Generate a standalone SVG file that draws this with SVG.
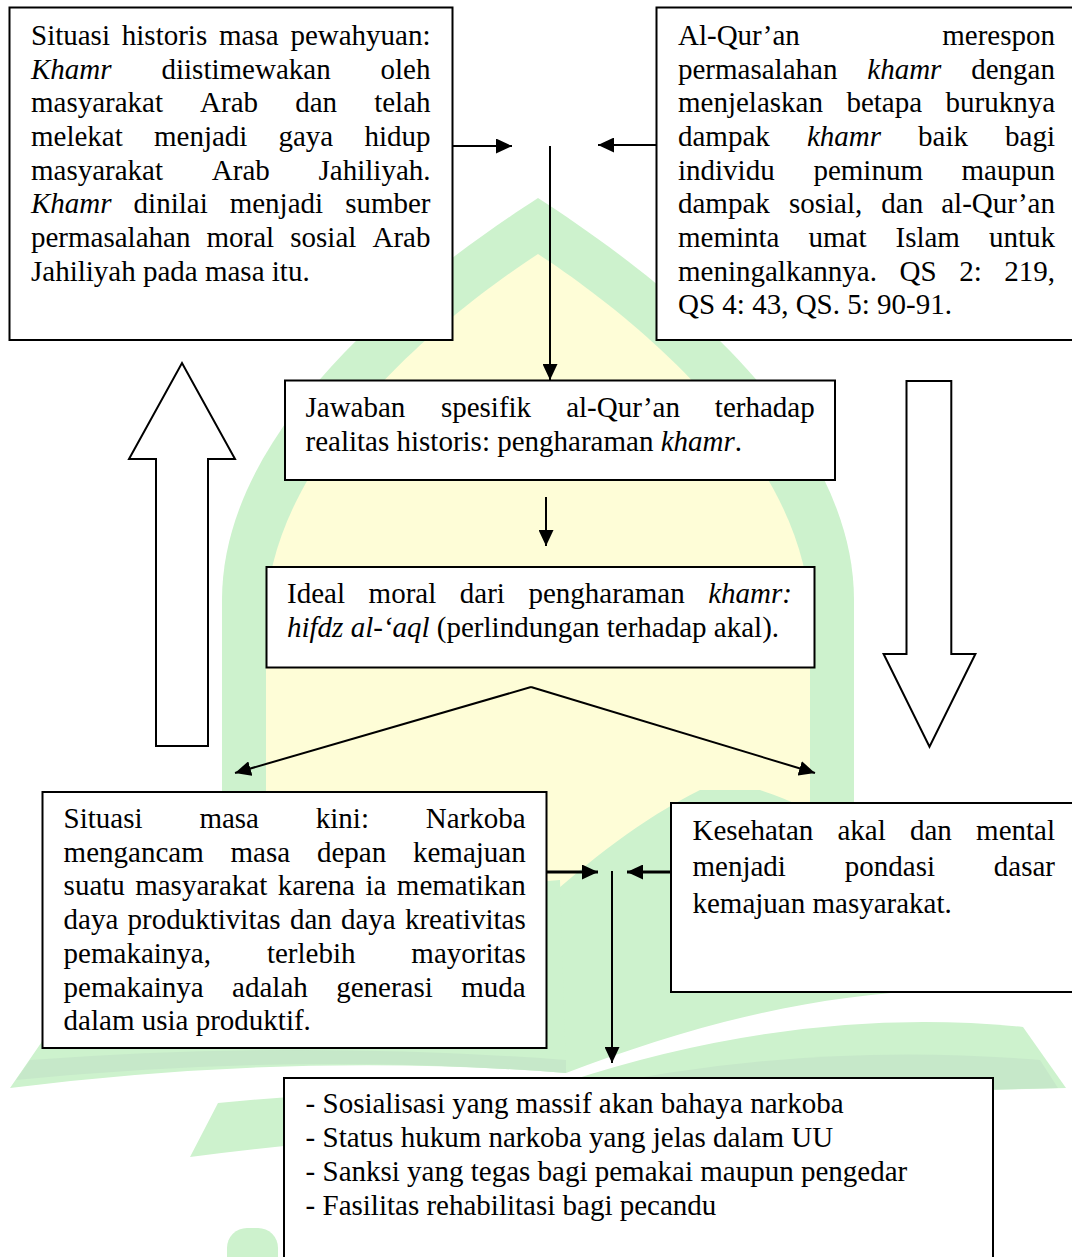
<svg xmlns="http://www.w3.org/2000/svg" width="1072" height="1257" viewBox="0 0 1072 1257">
<defs>
<style>
.box{fill:#fff;stroke:#000;stroke-width:2}
.t{font-family:"Liberation Serif","Times New Roman",serif;font-size:29px;fill:#000}
.i{font-style:italic}
.e{text-anchor:end}
.c{stroke:#000;stroke-width:2;fill:none}
.c3{stroke:#000;stroke-width:3;fill:none}
.hollow{fill:#fff;stroke:#000;stroke-width:2}
.wg{fill:#cdf2cd}
.wg2{fill:#c6e8c9}
.wy{fill:#fefdd7}
</style>
<marker id="ah" viewBox="0 0 16 15" refX="16" refY="7.5" markerWidth="16" markerHeight="15" markerUnits="userSpaceOnUse" orient="auto"><path d="M0,0 L16,7.5 L0,15 Z" fill="#000"/></marker>
</defs>
<rect width="1072" height="1257" fill="#fff"/>
<g id="watermark">
<path class="wg" d="M538,198 C430,268 222,420 222,600 L222,900 L854,900 L854,600 C854,420 646,268 538,198 Z"/>
<path class="wy" d="M538,254 C440,318 266,460 266,620 L266,900 L810,900 L810,620 C810,460 636,318 538,254 Z"/>
<path class="wg" d="M540,905 C590,860 640,820 700,790 L760,790 C880,830 920,900 940,990 C800,995 680,1030 566,1073 Z"/>
<path class="wg" d="M566,1082 Q800,1005 1023,1027 L1066,1088 L566,1100 Z"/>
<path class="wg2" d="M566,1092 Q800,1040 1040,1060 L1058,1088 L566,1100 Z"/>
<path class="wg" d="M10,1088 L41,1043 L80,960 Q300,900 560,880 L566,1073 Q300,1052 10,1088 Z"/>
<path class="wg2" d="M16,1080 L30,1060 Q300,1040 566,1060 L566,1073 Q300,1052 16,1080 Z"/>
<path class="wg" d="M190,1157 L218,1103 Q400,1085 566,1090 L566,1130 Q400,1130 190,1157 Z"/>
<rect class="wg" x="227" y="1228" width="51" height="60" rx="20"/>
</g>
<g id="connectors">
<line class="c" x1="453" y1="146" x2="512" y2="146" marker-end="url(#ah)"/>
<line class="c" x1="656" y1="145" x2="598" y2="145" marker-end="url(#ah)"/>
<line class="c" x1="550" y1="146" x2="550" y2="380" marker-end="url(#ah)"/>
<line class="c" x1="546" y1="497" x2="546" y2="546" marker-end="url(#ah)"/>
<line class="c" x1="531" y1="687" x2="235" y2="773" marker-end="url(#ah)"/>
<line class="c" x1="531" y1="687" x2="815" y2="773" marker-end="url(#ah)"/>
<line class="c3" x1="547" y1="872" x2="598" y2="872" marker-end="url(#ah)"/>
<line class="c3" x1="671" y1="872" x2="627" y2="872" marker-end="url(#ah)"/>
<line class="c" x1="612" y1="871" x2="612" y2="1063" marker-end="url(#ah)"/>
<polygon id="up-arrow" class="hollow" points="156,746 208,746 208,459 235,459 182,363 129,459 156,459"/>
<polygon id="down-arrow" class="hollow" points="906.5,381 951.3,381 951.3,654 975.4,654 929.5,746.7 883.6,654 906.5,654"/>
</g>
<g id="n1">
<rect class="box" x="9.5" y="7.5" width="443" height="332.5"/>
<text class="t" y="45"><tspan x="31">Situasi</tspan><tspan x="121.8">historis</tspan><tspan x="219">masa</tspan><tspan x="430.5" class="e">pewahyuan:</tspan></text>
<text class="t" y="78.7"><tspan x="31" class="i">Khamr</tspan><tspan x="161.5">diistimewakan</tspan><tspan x="430.5" class="e">oleh</tspan></text>
<text class="t" y="112.3"><tspan x="31">masyarakat</tspan><tspan x="200.1">Arab</tspan><tspan x="295.2">dan</tspan><tspan x="430.5" class="e">telah</tspan></text>
<text class="t" y="146"><tspan x="31">melekat</tspan><tspan x="154">menjadi</tspan><tspan x="278.5">gaya</tspan><tspan x="430.5" class="e">hidup</tspan></text>
<text class="t" y="179.7"><tspan x="31">masyarakat</tspan><tspan x="211.8">Arab</tspan><tspan x="430.5" class="e">Jahiliyah.</tspan></text>
<text class="t" y="213.3"><tspan x="31" class="i">Khamr</tspan><tspan x="133.6">dinilai</tspan><tspan x="229.7">menjadi</tspan><tspan x="430.5" class="e">sumber</tspan></text>
<text class="t" y="247"><tspan x="31">permasalahan</tspan><tspan x="206.5">moral</tspan><tspan x="290.3">sosial</tspan><tspan x="430.5" class="e">Arab</tspan></text>
<text class="t" x="31" y="280.7">Jahiliyah pada masa itu.</text>
</g>
<g id="n2">
<rect class="box" x="656.5" y="7.5" width="420" height="332.5"/>
<text class="t" y="45"><tspan x="678">Al-Qur’an</tspan><tspan x="1055" class="e">merespon</tspan></text>
<text class="t" y="78.7"><tspan x="678">permasalahan</tspan><tspan x="867.3" class="i">khamr</tspan><tspan x="1055" class="e">dengan</tspan></text>
<text class="t" y="112.3"><tspan x="678">menjelaskan</tspan><tspan x="846.4">betapa</tspan><tspan x="1055" class="e">buruknya</tspan></text>
<text class="t" y="146"><tspan x="678">dampak</tspan><tspan x="806.9" class="i">khamr</tspan><tspan x="918.1">baik</tspan><tspan x="1055" class="e">bagi</tspan></text>
<text class="t" y="179.7"><tspan x="678">individu</tspan><tspan x="813.4">peminum</tspan><tspan x="1055" class="e">maupun</tspan></text>
<text class="t" y="213.3"><tspan x="678">dampak</tspan><tspan x="788.9">sosial,</tspan><tspan x="881.3">dan</tspan><tspan x="1055" class="e">al-Qur’an</tspan></text>
<text class="t" y="247"><tspan x="678">meminta</tspan><tspan x="808.5">umat</tspan><tspan x="895.5">Islam</tspan><tspan x="1055" class="e">untuk</tspan></text>
<text class="t" y="280.7"><tspan x="678">meningalkannya.</tspan><tspan x="899.5">QS</tspan><tspan x="959.2">2:</tspan><tspan x="1055" class="e">219,</tspan></text>
<text class="t" x="678" y="314.3">QS 4: 43, QS. 5: 90-91.</text>
</g>
<g id="n3">
<rect class="box" x="285" y="380.5" width="550" height="99.5"/>
<text class="t" y="417"><tspan x="305.5">Jawaban</tspan><tspan x="440.9">spesifik</tspan><tspan x="566.2">al-Qur’an</tspan><tspan x="814.7" class="e">terhadap</tspan></text>
<text class="t" x="305.5" y="451">realitas historis: pengharaman <tspan class="i">khamr</tspan>.</text>
</g>
<g id="n4">
<rect class="box" x="266.5" y="567" width="548" height="100.5"/>
<text class="t" y="603"><tspan x="287">Ideal</tspan><tspan x="368.6">moral</tspan><tspan x="459.8">dari</tspan><tspan x="528.5">pengharaman</tspan><tspan x="792" class="e i">khamr:</tspan></text>
<text class="t" x="287" y="637"><tspan class="i">hifdz al-‘aql</tspan> (perlindungan terhadap akal).</text>
</g>
<g id="n5">
<rect class="box" x="42.5" y="792" width="504" height="256"/>
<text class="t" y="828"><tspan x="63.6">Situasi</tspan><tspan x="199.4">masa</tspan><tspan x="315.8">kini:</tspan><tspan x="525.7" class="e">Narkoba</tspan></text>
<text class="t" y="861.7"><tspan x="63.6">mengancam</tspan><tspan x="230.5">masa</tspan><tspan x="316.9">depan</tspan><tspan x="525.7" class="e">kemajuan</tspan></text>
<text class="t" y="895.4"><tspan x="63.6">suatu</tspan><tspan x="135.2">masyarakat</tspan><tspan x="277.7">karena</tspan><tspan x="365.4">ia</tspan><tspan x="525.7" class="e">mematikan</tspan></text>
<text class="t" y="929.1"><tspan x="63.6">daya</tspan><tspan x="127.6">produktivitas</tspan><tspan x="289.9">dan</tspan><tspan x="341">daya</tspan><tspan x="525.7" class="e">kreativitas</tspan></text>
<text class="t" y="962.8"><tspan x="63.6">pemakainya,</tspan><tspan x="266.9">terlebih</tspan><tspan x="525.7" class="e">mayoritas</tspan></text>
<text class="t" y="996.5"><tspan x="63.6">pemakainya</tspan><tspan x="232.1">adalah</tspan><tspan x="336.2">generasi</tspan><tspan x="525.7" class="e">muda</tspan></text>
<text class="t" x="63.6" y="1030.2">dalam usia produktif.</text>
</g>
<g id="n6">
<rect class="box" x="671" y="803" width="410" height="189"/>
<text class="t" y="839.5"><tspan x="692.5">Kesehatan</tspan><tspan x="837.5">akal</tspan><tspan x="910">dan</tspan><tspan x="1055" class="e">mental</tspan></text>
<text class="t" y="876"><tspan x="692.5">menjadi</tspan><tspan x="844.8">pondasi</tspan><tspan x="1055" class="e">dasar</tspan></text>
<text class="t" x="692.5" y="912.5">kemajuan masyarakat.</text>
</g>
<g id="n7">
<rect class="box" x="284" y="1078" width="709" height="190"/>
<text class="t" x="305.6" y="1113">- Sosialisasi yang massif akan bahaya narkoba</text>
<text class="t" x="305.6" y="1147">- Status hukum narkoba yang jelas dalam UU</text>
<text class="t" x="305.6" y="1181">- Sanksi yang tegas bagi pemakai maupun pengedar</text>
<text class="t" x="305.6" y="1215">- Fasilitas rehabilitasi bagi pecandu</text>
</g>
</svg>
